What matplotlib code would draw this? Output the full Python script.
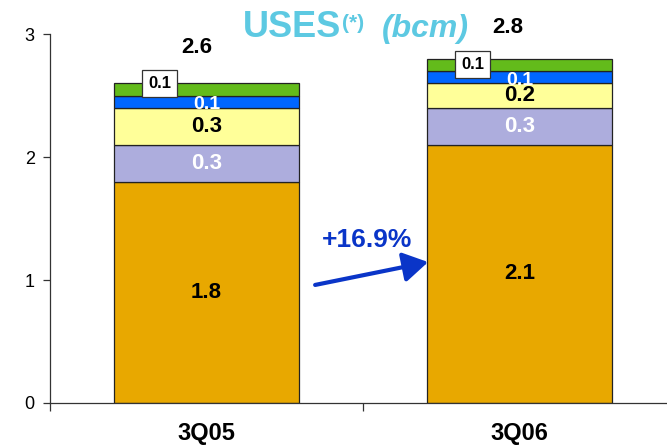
import matplotlib.pyplot as plt
from matplotlib.patches import FancyArrowPatch

plt.rcParams['font.family'] = ['Liberation Sans', 'DejaVu Sans']

quarters = ['3Q05', '3Q06']
totals = [2.6, 2.8]
# stacked segments, bottom to top
seg_a = [1.8, 2.1]
seg_b = [0.3, 0.3]
seg_c = [0.3, 0.2]
seg_d = [0.1, 0.1]
seg_e = [0.1, 0.1]
growth = '+16.9%'

segments = [seg_a, seg_b, seg_c, seg_d, seg_e]
colors = ['#E8A800', '#ADADDD', '#FFFF99', '#0066FF', '#63BB1B']
text_colors = ['black', 'white', 'black', 'white', 'black']
title_col = '#5DC9E2'
arrow_col = '#0A35C8'

fig = plt.figure(figsize=(6.67, 4.45), dpi=100)
ax = fig.add_axes([0.075, 0.0944, 0.9385, 0.829])

x = list(range(len(quarters)))
width = 0.59
bottoms = [0.0] * len(x)
box_lift = [0.97, 0.52]
for k, (vals, col) in enumerate(zip(segments, colors)):
    rects = ax.bar(x, vals, width, bottom=bottoms, color=col, edgecolor='#222222',
                   linewidth=0.9, zorder=2)
    for i, v in enumerate(vals):
        mid = bottoms[i] + v / 2
        if k == 4:
            ax.text(x[i] - 0.15, bottoms[i] + v * box_lift[i], f'{v:.1f}', ha='center',
                    va='center', fontsize=12, fontweight='bold', color='black', zorder=4,
                    bbox=dict(boxstyle='square,pad=0.38', fc='white', ec='#333333', lw=0.9))
        elif k == 3:
            t = ax.text(x[i], mid - 0.025, f'{v:.1f}', ha='center', va='center',
                        fontsize=14, fontweight='bold', color='white', zorder=3)
            t.set_clip_path(rects[i])
        else:
            ax.text(x[i], mid, f'{v:.1f}', ha='center', va='center',
                    fontsize=16, fontweight='bold', color=text_colors[k], zorder=3)
    bottoms = [b + v for b, v in zip(bottoms, vals)]

total_pos = [(-0.03, 2.894), (0.963, 3.057)]
for (tx, ty), t in zip(total_pos, totals):
    ax.text(tx, ty, f'{t:.1f}', ha='center', va='center', fontsize=16, fontweight='bold')

# title
ax.text(0.117, 2.975, 'USES', ha='left', va='baseline', fontsize=26, fontweight='bold',
        color=title_col)
ax.text(0.433, 3.04, '(*)', ha='left', va='baseline', fontsize=15, fontweight='bold',
        color=title_col)
ax.text(0.561, 2.975, '(bcm)', ha='left', va='baseline', fontsize=23, fontweight='bold',
        style='italic', color=title_col)

arrow = FancyArrowPatch((0.347, 0.96), (0.708, 1.146),
                        arrowstyle='-|>,head_length=1.5,head_width=0.9',
                        mutation_scale=10, color=arrow_col, lw=3, shrinkA=0, shrinkB=0,
                        zorder=5)
ax.add_patch(arrow)
ax.text(0.513, 1.325, growth, ha='center', va='center', fontsize=19, fontweight='bold',
        color=arrow_col)

ax.set_xlim(-0.5, 1.5)
ax.set_ylim(0, 3)
ax.set_yticks([0, 1, 2, 3])
ax.set_xticks([-0.5, 0.5, 1.5])
ax.set_xticklabels(['', '', ''])
for i, q in enumerate(quarters):
    ax.text(x[i], -0.245, q, ha='center', va='center', fontsize=17, fontweight='bold')
ax.tick_params(axis='y', labelsize=13, length=5, width=0.9, colors='#333333',
               labelcolor='black', pad=6)
ax.tick_params(axis='x', length=6, width=0.9, colors='#333333')
ax.spines['top'].set_visible(False)
ax.spines['right'].set_visible(False)
for s in ('left', 'bottom'):
    ax.spines[s].set_linewidth(0.9)
    ax.spines[s].set_color('#333333')

fig.savefig('out.png', dpi=100)
